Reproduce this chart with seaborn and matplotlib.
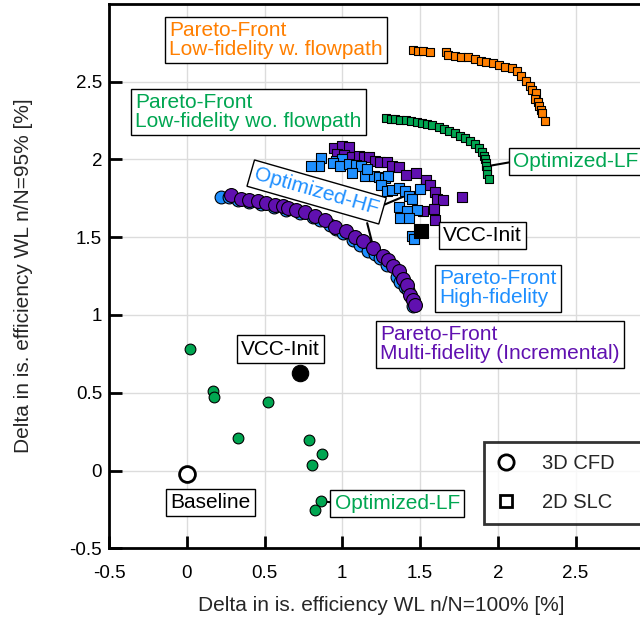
import numpy as np
import pandas as pd
import matplotlib
matplotlib.use("Agg")
import matplotlib.pyplot as plt
from matplotlib.lines import Line2D
import seaborn as sns

# ---------------- data ----------------
lf_flow_x = [1.456, 1.489, 1.522, 1.562, 1.667, 1.678, 1.722, 1.762, 1.807, 1.851, 1.889, 1.927, 1.967,
             2.007, 2.044, 2.089, 2.122, 2.149, 2.184, 2.207, 2.222, 2.244, 2.238, 2.256, 2.267, 2.278,
             2.282, 2.304]
lf_flow_y = [2.702, 2.698, 2.696, 2.691, 2.687, 2.670, 2.664, 2.660, 2.655, 2.643, 2.632, 2.626, 2.617,
             2.606, 2.596, 2.585, 2.570, 2.536, 2.506, 2.472, 2.447, 2.426, 2.387, 2.366, 2.345, 2.319,
             2.298, 2.245]

lf_noflow_x = [1.278, 1.311, 1.340, 1.371, 1.407, 1.444, 1.478, 1.511, 1.544, 1.578, 1.622, 1.656, 1.689,
               1.722, 1.756, 1.789, 1.822, 1.856, 1.878, 1.896, 1.911, 1.918, 1.927, 1.927, 1.933, 1.933,
               1.940]
lf_noflow_y = [2.266, 2.262, 2.260, 2.255, 2.251, 2.245, 2.238, 2.234, 2.228, 2.219, 2.209, 2.196, 2.185,
               2.170, 2.153, 2.138, 2.117, 2.096, 2.074, 2.047, 2.021, 2.000, 1.979, 1.957, 1.932, 1.904,
               1.872]

mf_slc_x = [0.947, 0.996, 1.043, 0.968, 1.011, 1.064, 1.106, 1.138, 1.170, 1.213, 1.245, 1.287, 1.319,
            1.362, 1.409, 1.472, 1.536, 1.564, 1.596, 1.606, 1.649, 1.591, 1.596, 1.521, 1.770]
mf_slc_y = [2.070, 2.085, 2.081, 2.034, 2.028, 2.017, 2.021, 2.013, 2.017, 1.991, 1.985, 1.985, 1.957,
            1.953, 1.900, 1.915, 1.864, 1.836, 1.787, 1.745, 1.740, 1.681, 1.613, 1.666, 1.757]

hf_slc_x = [0.862, 0.851, 0.798, 0.957, 0.996, 0.940, 0.983, 1.043, 1.085, 1.123, 1.064, 1.149, 1.202,
            1.234, 1.277, 1.294, 1.160, 1.251, 1.287, 1.319, 1.362, 1.404, 1.426, 1.447, 1.366, 1.415,
            1.479, 1.372, 1.426, 1.500, 1.447, 1.460]
hf_slc_y = [2.006, 1.957, 1.957, 1.991, 2.000, 1.974, 1.957, 1.970, 1.964, 1.957, 1.911, 1.894, 1.894,
            1.889, 1.879, 1.894, 1.936, 1.836, 1.794, 1.804, 1.815, 1.794, 1.766, 1.745, 1.694, 1.666,
            1.677, 1.623, 1.623, 1.809, 1.506, 1.489]

hf_cfd_x = [0.220, 0.270, 0.330, 0.400, 0.480, 0.560, 0.640, 0.726, 0.812, 0.855, 0.920, 0.960, 1.005,
            1.070, 1.113, 1.167, 1.210, 1.242, 1.285, 1.349, 1.371, 1.403, 1.425, 1.440, 1.457]
hf_cfd_y = [1.758, 1.755, 1.740, 1.725, 1.710, 1.695, 1.675, 1.655, 1.629, 1.612, 1.575, 1.550, 1.526,
            1.483, 1.451, 1.408, 1.392, 1.365, 1.322, 1.246, 1.214, 1.182, 1.160, 1.118, 1.057]

mf_cfd_x = [0.285, 0.349, 0.403, 0.457, 0.511, 0.565, 0.618, 0.651, 0.704, 0.758, 0.823, 0.887, 0.952,
            1.027, 1.081, 1.134, 1.199, 1.259, 1.296, 1.328, 1.367, 1.392, 1.414, 1.435, 1.457, 1.468]
mf_cfd_y = [1.769, 1.747, 1.737, 1.730, 1.719, 1.709, 1.698, 1.687, 1.676, 1.659, 1.638, 1.608, 1.562,
            1.537, 1.500, 1.472, 1.429, 1.380, 1.354, 1.315, 1.285, 1.229, 1.192, 1.128, 1.096, 1.063]

lf_cfd_x = [0.022, 0.167, 0.173, 0.522, 0.327, 0.789, 0.867, 0.804, 0.862, 0.822]
lf_cfd_y = [0.784, 0.513, 0.474, 0.438, 0.212, 0.197, 0.105, 0.036, -0.199, -0.252]

baseline_x, baseline_y = [0.0], [-0.02]
vcc_cfd_x, vcc_cfd_y = [0.727], [0.624]
vcc_slc_x, vcc_slc_y = [1.503], [1.542]

# ---------------- style ----------------
sns.set_style("ticks")
plt.rcParams['font.family'] = ['Liberation Sans', 'DejaVu Sans']

ORANGE = "#FF7F00"
GREEN = "#00A651"
BLUE = "#1E8FFF"
PURPLE = "#6010B0"

fig = plt.figure(figsize=(6.4, 6.17), dpi=100)
ax = fig.add_axes([0.1703, 0.1113, 0.8506, 0.8827])

def sc(x, y, color, marker, s, lw=0.8, ec="black", z=3):
    sns.scatterplot(x=x, y=y, ax=ax, color=color, marker=marker, s=s,
                    edgecolor=ec, linewidth=lw, legend=False, zorder=z)

sc(lf_flow_x, lf_flow_y, ORANGE, "s", 30)
sc(lf_noflow_x, lf_noflow_y, GREEN, "s", 30)
sc(mf_slc_x, mf_slc_y, PURPLE, "s", 45)
sc(hf_slc_x, hf_slc_y, BLUE, "s", 45)
sc(hf_cfd_x, hf_cfd_y, BLUE, "o", 85)
sc(mf_cfd_x, mf_cfd_y, PURPLE, "o", 100)
sc(lf_cfd_x, lf_cfd_y, GREEN, "o", 60)
sc(baseline_x, baseline_y, "white", "o", 130, lw=2.0)
sc(vcc_cfd_x, vcc_cfd_y, "black", "o", 140)
sc(vcc_slc_x, vcc_slc_y, "black", "s", 95)

ax.set_xlim(-0.5, 3.0)
ax.set_ylim(-0.5, 3.0)
ax.set_xticks([-0.5, 0, 0.5, 1, 1.5, 2, 2.5])
ax.set_xticklabels(["-0.5", "0", "0.5", "1", "1.5", "2", "2.5"])
ax.set_yticks([-0.5, 0, 0.5, 1, 1.5, 2, 2.5])
ax.set_yticklabels(["-0.5", "0", "0.5", "1", "1.5", "2", "2.5"])
ax.grid(True, color="#dcdcdc", linewidth=1.0, zorder=0)
ax.set_axisbelow(True)
ax.tick_params(direction="in", length=9, width=2, labelsize=13.5, colors="black")
ax.tick_params(axis="x", pad=12)
ax.tick_params(axis="y", pad=5)
for sp in ax.spines.values():
    sp.set_linewidth(2)
    sp.set_color("black")
ax.set_xlabel("Delta in is. efficiency WL n/N=100% [%]", fontsize=15, labelpad=10)
ax.set_ylabel("Delta in is. efficiency WL n/N=95% [%]", fontsize=15, labelpad=26)

box = dict(boxstyle="square,pad=0.2", facecolor="white", edgecolor="black", linewidth=1)
fs = 15
ax.text(-0.115, 2.766, "Pareto-Front\nLow-fidelity w. flowpath", color=ORANGE, fontsize=fs,
        va="center", ha="left", bbox=box, linespacing=1.0, zorder=5)
ax.text(-0.33, 2.305, "Pareto-Front\nLow-fidelity wo. flowpath", color=GREEN, fontsize=fs,
        va="center", ha="left", bbox=box, linespacing=1.0, zorder=5)
ax.text(1.625, 1.17, "Pareto-Front\nHigh-fidelity", color=BLUE, fontsize=fs,
        va="center", ha="left", bbox=box, linespacing=1.0, zorder=5)
ax.text(1.245, 0.81, "Pareto-Front\nMulti-fidelity (Incremental)", color=PURPLE, fontsize=fs,
        va="center", ha="left", bbox=box, linespacing=1.0, zorder=5)
ax.text(1.65, 1.51, "VCC-Init", color="black", fontsize=fs, va="center", ha="left", bbox=box, zorder=5)
ax.text(0.6, 0.78, "VCC-Init", color="black", fontsize=fs, va="center", ha="center", bbox=box, zorder=5)
ax.text(0.153, -0.205, "Baseline", color="black", fontsize=fs, va="center", ha="center", bbox=box, zorder=5)

# Optimized-LF (top)
ax.plot([1.94, 2.10], [1.957, 1.985], color="black", lw=1.5, zorder=2)
ax.text(2.10, 1.985, "Optimized-LF", color=GREEN, fontsize=fs, va="center", ha="left", bbox=box, zorder=5)
# Optimized-LF (bottom)
ax.plot([0.862, 0.95], [-0.199, -0.205], color="black", lw=1.5, zorder=2)
ax.text(0.95, -0.21, "Optimized-LF", color=GREEN, fontsize=fs, va="center", ha="left", bbox=box, zorder=5)
# Optimized-HF
ax.plot([1.25, 1.421], [1.70, 1.772], color="black", lw=1.5, zorder=2)
ax.plot([1.16, 1.20], [1.59, 1.432], color="black", lw=1.5, zorder=2)
ax.text(0.835, 1.79, "Optimized-HF", color=BLUE, fontsize=fs, va="center", ha="center",
        rotation=-16, rotation_mode="anchor", bbox=box, zorder=5)

handles = [
    Line2D([], [], marker="o", linestyle="none", markersize=11, markerfacecolor="white",
           markeredgecolor="black", markeredgewidth=2, label="3D CFD"),
    Line2D([], [], marker="s", linestyle="none", markersize=8, markerfacecolor="white",
           markeredgecolor="black", markeredgewidth=2, label="2D SLC"),
]
leg = ax.legend(handles=handles, loc="upper left", bbox_to_anchor=(0.689, 0.0, 0.30, 0.196),
                mode="expand", fontsize=14.5,
                frameon=True, fancybox=False, labelspacing=1.0, handletextpad=1.3, handlelength=1.0,
                borderpad=0.6, borderaxespad=0.0)
leg.get_frame().set_edgecolor("black")
leg.get_frame().set_linewidth(2)
leg.set_zorder(6)

fig.savefig("out.png", dpi=100)
